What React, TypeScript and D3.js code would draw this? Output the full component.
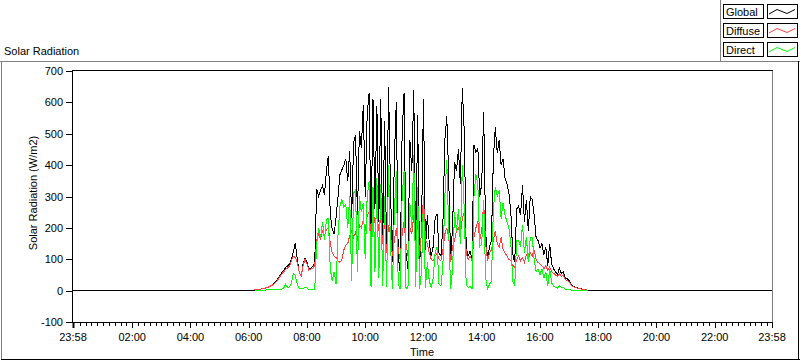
import React from "react";
import * as d3 from "d3";

// minutes after midnight; axis runs 23:58 -> 23:58
const axisStart = -2;
const axisEnd = 1438;
const tickMinutes = [-2, 120, 240, 360, 480, 600, 720, 840, 960, 1080, 1200, 1320, 1438];
const tickLabels = ["23:58", "02:00", "04:00", "06:00", "08:00", "10:00", "12:00", "14:00", "16:00", "18:00", "20:00", "22:00", "23:58"];
const yTicks = [-100, 0, 100, 200, 300, 400, 500, 600, 700];

// daytime samples, every 4 minutes from 06:00
const sampleStart = 360;
const sampleStep = 4;

const globalVals = [
  0, 0, 1, 2, 3, 4, 5, 6, 7, 9,
  12, 15, 18, 22, 28, 38, 48, 56, 64, 74,
  78, 85, 100, 125, 152, 100, 60, 45, 85, 105,
  90, 68, 72, 78, 88, 325, 300, 320, 335, 305,
  380, 430, 245, 195, 180, 235, 300, 370, 385, 400,
  420, 350, 445, 230, 470, 495, 240, 510, 455, 590,
  300, 560, 630, 180, 610, 260, 590, 220, 610, 150,
  540, 130, 650, 330, 90, 420, 600, 110, 60, 500,
  630, 120, 70, 480, 380, 640, 90, 560, 80, 200,
  610, 130, 240, 150, 110, 140, 230, 245, 120, 110,
  210, 480, 555, 360, 95, 210, 410, 380, 450, 340,
  645, 510, 140, 110, 125, 100, 465, 440, 455, 300,
  340, 570, 190, 100, 140, 160, 420, 520, 440, 480,
  400, 420, 360, 340, 310, 250, 115, 90, 260, 270,
  240, 335, 220, 290, 190, 300, 290, 240, 170, 160,
  135, 150, 115, 140, 80, 150, 85, 70, 60, 50,
  72, 55, 60, 40, 38, 32, 20, 14, 12, 9,
  8, 6, 4, 3, 2, 1, 0, 0,
];

const diffuseVals = [
  null, null, null, 2, 3, 4, 5, 6, 7, 9,
  11, 14, 17, 21, 26, 35, 44, 52, 60, 68,
  72, 78, 95, 110, 105, 90, 60, 45, 80, 100,
  85, 65, 68, 72, 80, 160, 180, 165, 190, 175,
  195, 200, 150, 120, 110, 105, 95, 90, 100, 130,
  145, 150, 175, 190, 170, 185, 160, 210, 200, 225,
  190, 240, 250, 170, 260, 215, 245, 190, 230, 150,
  220, 120, 210, 180, 110, 160, 200, 130, 100, 180,
  220, 150, 110, 200, 180, 240, 120, 230, 110, 190,
  300, 160, 150, 120, 100, 95, 110, 120, 100, 95,
  130, 180, 200, 170, 90, 140, 160, 190, 200, 180,
  230, 250, 120, 100, 110, 95, 170, 200, 220, 160,
  190, 280, 150, 95, 120, 130, 160, 190, 150, 140,
  170, 130, 120, 110, 100, 95, 80, 75, 100, 110,
  95, 105, 90, 115, 100, 120, 110, 130, 100, 90,
  85, 80, 70, 80, 65, 75, 60, 55, 50, 45,
  55, 45, 50, 35, 33, 28, 18, 13, 11, 8,
  7, 5, 4, 3, 2, 1, null, null,
];

const directVals = [
  null, null, null, 1, 1, 1, 1, 1, 1, 2,
  2, 2, 2, 3, 3, 3, 4, 5, 8, 20,
  10, 12, 25, 55, 48, 20, 8, 5, 6, 12,
  8, 4, 3, 3, 4, 150, 200, 170, 220, 160,
  225, 230, 70, 30, 60, 20, 180, 270, 290, 265,
  275, 200, 300, 30, 310, 320, 60, 300, 250, 280,
  100, 300, 350, 10, 330, 60, 360, 40, 340, 15,
  300, 10, 400, 150, 5, 250, 380, 20, 5, 300,
  380, 10, 5, 280, 200, 433, 10, 330, 5, 60,
  300, 10, 90, 30, 10, 40, 120, 140, 20, 15,
  80, 300, 417, 190, 5, 70, 250, 190, 260, 150,
  400, 260, 20, 10, 15, 5, 300, 370, 340, 140,
  150, 290, 40, 5, 20, 30, 260, 330, 300, 320,
  230, 280, 240, 220, 200, 150, 30, 15, 160, 160,
  140, 210, 120, 170, 90, 170, 170, 100, 60, 70,
  50, 70, 40, 60, 15, 70, 25, 15, 10, 8,
  15, 10, 10, 5, 5, 4, 2, 1, 1, 1,
  1, 0, 0, 0, 0, null, null, null,
];

const seriesNames = ["Global", "Diffuse", "Direct"];
const seriesColors = ["#000000", "#ff4040", "#00ff00"];

const font = "'Liberation Sans', Arial, sans-serif";

type Pt = { t: number; v: number | null };

function toPoints(vals: (number | null)[], padEnds: boolean): Pt[] {
  let pts: Pt[] = vals.map((v, i) => ({ t: sampleStart + i * sampleStep, v }));
  if (padEnds) pts = [{ t: axisStart, v: 0 }, ...pts, { t: axisEnd, v: 0 }];
  return pts;
}

export default function App() {
  const left = 73, right = 772, top = 71, bottom = 322;
  const x = d3.scaleLinear().domain([axisStart, axisEnd]).range([left, right]);
  const y = d3.scaleLinear().domain([-100, 700]).range([bottom, top]);

  const line = d3
    .line<Pt>()
    .defined((d) => d.v !== null)
    .x((d) => x(d.t))
    .y((d) => y(d.v as number));

  const series = [toPoints(globalVals, true), toPoints(diffuseVals, false), toPoints(directVals, false)];

  const minor: number[] = [];
  for (let m = 12; m < axisEnd; m += 12) {
    if (m % 120 !== 0) minor.push(m);
  }

  return (
    <div style={{ position: "absolute", left: 0, top: 0 }}>
      <svg width={800} height={361} style={{ display: "block", background: "#fff" }} fontFamily={font} fontSize={11}>
        {/* outer frame */}
        <line x1={0} x2={800} y1={61.5} y2={61.5} stroke="#808080" />
        <line x1={1.5} x2={1.5} y1={61} y2={360} stroke="#808080" />
        <line x1={1} x2={800} y1={359.5} y2={359.5} stroke="#000" />
        <line x1={798.5} x2={798.5} y1={61} y2={360} stroke="#000" />
        <text x={4} y={55} fill="#000">Solar Radiation</text>

        {/* legend */}
        <line x1={720.5} x2={720.5} y1={0} y2={61} stroke="#808080" />
        {seriesNames.map((name, i) => {
          const by = 4 + i * 19;
          return (
            <g key={name}>
              <rect x={723.5} y={by + 0.5} width={40} height={14} fill="#fff" stroke="#000" />
              <text x={726} y={by + 12}>{name}</text>
              <rect x={767.5} y={by + 0.5} width={30} height={14} fill="#fff" stroke="#000" />
              <polyline
                points={`${769},${by + 10} ${777},${by + 5.5} ${787},${by + 9.5} ${795},${by + 5.5}`}
                fill="none"
                stroke={seriesColors[i]}
              />
            </g>
          );
        })}

        {/* plot frame */}
        <line x1={772.5} x2={772.5} y1={70} y2={322} stroke="#808080" />
        <line x1={72} x2={773} y1={70.5} y2={70.5} stroke="#000" />

        <defs>
          <clipPath id="plotClip">
            <rect x={left} y={70} width={right - left} height={bottom - 70 + 1} />
          </clipPath>
        </defs>

        <g clipPath="url(#plotClip)" shapeRendering="crispEdges">
          {series.map((pts, i) => (
            <path key={i} d={line(pts) || ""} fill="none" stroke={seriesColors[i]} strokeWidth={1} />
          ))}
        </g>

        {/* y axis */}
        <line x1={72.5} x2={72.5} y1={70} y2={323} stroke="#000" />
        {yTicks.map((v) => (
          <g key={v}>
            <line x1={66} x2={72} y1={Math.round(y(v)) + 0.5} y2={Math.round(y(v)) + 0.5} stroke="#000" />
            <text x={63} y={Math.round(y(v)) + 4} textAnchor="end">{v}</text>
          </g>
        ))}
        <text transform={`translate(37,193) rotate(-90)`} textAnchor="middle">Solar Radiation (W/m2)</text>

        {/* x axis */}
        <line x1={72} x2={773} y1={322.5} y2={322.5} stroke="#000" />
        {minor.map((m) => (
          <line key={m} x1={Math.round(x(m)) + 0.5} x2={Math.round(x(m)) + 0.5} y1={323} y2={326} stroke="#000" />
        ))}
        {tickMinutes.map((m, i) => (
          <g key={i}>
            <line
              x1={Math.round(x(m)) + 0.5}
              x2={Math.round(x(m)) + 0.5}
              y1={323}
              y2={328}
              stroke="#000"
              strokeWidth={i === 0 ? 2 : 1}
            />
            <text x={x(m)} y={341} textAnchor="middle">{tickLabels[i]}</text>
          </g>
        ))}
        <text x={422} y={356} textAnchor="middle">Time</text>
      </svg>
    </div>
  );
}
